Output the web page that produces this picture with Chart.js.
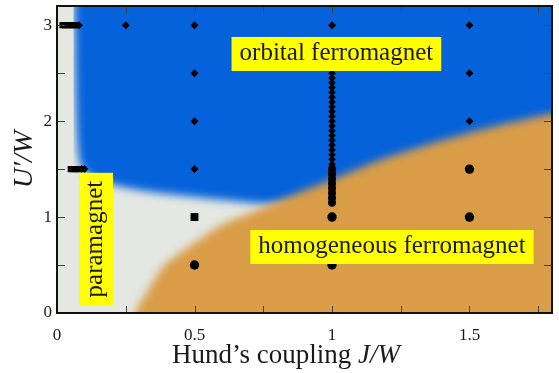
<!DOCTYPE html>
<html>
<head>
<meta charset="utf-8">
<script src="https://cdn.jsdelivr.net/npm/chart.js@4.4.1/dist/chart.umd.min.js"></script>
<style>
html, body { margin: 0; padding: 0; background: #fff; }
</style>
</head>
<body>
<canvas id="phase-chart" width="559" height="373"></canvas>
<script>
// tick degli assi
const xTicks = [0, 0.5, 1, 1.5];
const yTicks = [0, 1, 2, 3];
const xMinorTicks = [0, 0.25, 0.5, 0.75, 1, 1.25, 1.5, 1.75];
const yMinorTicks = [0, 0.5, 1, 1.5, 2, 2.5, 3];

// confine della fase orbitale (blu): J/W, U'/W
const orbitalEdgeJ = [0.060, 0.063, 0.066, 0.070, 0.076, 0.085, 0.10, 0.14, 0.20, 0.30, 0.40, 0.50, 0.60, 0.70, 0.80, 1.0, 1.4, 1.9, 2.3];
const orbitalEdgeU = [4.0, 3.2, 2.5, 2.0, 1.7, 1.55, 1.48, 1.40, 1.34, 1.28, 1.24, 1.21, 1.18, 1.15, 1.14, 1.2, 1.5, 1.9, 2.1];

// confine della fase ferromagnetica omogenea (arancio)
const homoEdgeJ = [0.25, 0.285, 0.32, 0.385, 0.45, 0.50, 0.60, 0.70, 0.80, 0.90, 1.0, 1.2, 1.5, 1.8, 2.2];
const homoEdgeU = [-1.0, 0.0, 0.18, 0.48, 0.63, 0.73, 0.92, 1.04, 1.16, 1.28, 1.39, 1.62, 1.88, 2.08, 2.30];

// punti calcolati
const diamondJ = [0.08, 0.25, 0.5, 1.0, 1.5, 0.5, 0.5, 0.5, 1.5, 1.5, 0.09, 0.10];
const diamondU = [3.0, 3.0, 3.0, 3.0, 3.0, 2.5, 2.0, 1.5, 2.5, 2.0, 1.5, 1.5];
const circleJ = [1.0, 1.0, 0.5, 1.5, 1.5];
const circleU = [1.0, 0.5, 0.5, 1.5, 1.0];
const squareJ = [0.02, 0.03, 0.04, 0.05, 0.06, 0.07, 0.05, 0.06, 0.07, 0.08, 0.5];
const squareU = [3.0, 3.0, 3.0, 3.0, 3.0, 3.0, 1.5, 1.5, 1.5, 1.5, 1.0];

// colonna densa a J/W = 1
const columnJ = 1.0;
const columnDiamondU = [2.50, 2.45, 2.40, 2.35, 2.30, 2.25, 2.20, 2.15, 2.10, 2.05, 2.00, 1.95, 1.90, 1.85, 1.80, 1.75, 1.70, 1.65, 1.60, 1.55];
const columnCircleU = [1.50, 1.45, 1.40, 1.35, 1.30, 1.25, 1.20, 1.15];

const phaseNames = ['orbital ferromagnet', 'homogeneous ferromagnet', 'paramagnet'];

const toPts = (xs, ys) => xs.map((x, i) => ({ x: x, y: ys[i] }));

const SERIF = '"Liberation Serif", "DejaVu Serif", serif';

const phasePlugin = {
    id: 'phase',
    beforeDraw(chart) {
        const { ctx, chartArea: a } = chart;
        ctx.save();
        ctx.fillStyle = '#e4e7e2';
        ctx.fillRect(a.left, a.top, a.right - a.left, a.bottom - a.top);
        ctx.restore();
    },
    beforeDatasetsDraw(chart) {
        chart.ctx.save();
        chart.ctx.filter = 'blur(4px)';
    },
    beforeDatasetDraw(chart, args) {
        if (!chart.data.datasets[args.index].isRegion) {
            chart.ctx.filter = 'none';
        }
    },
    afterDatasetsDraw(chart) {
        const { ctx, chartArea: a, scales } = chart;
        const xs = scales.x, ys = scales.y;
        ctx.restore();

        // etichette delle fasi
        const anchors = [
            { x: 1.016, y: 2.70, rot: 0 },
            { x: 1.218, y: 0.688, rot: 0 },
            { x: 0.142, y: 0.77, rot: -Math.PI / 2 }
        ];
        ctx.save();
        ctx.font = '25px ' + SERIF;
        ctx.textAlign = 'center';
        ctx.textBaseline = 'alphabetic';
        phaseNames.forEach((name, i) => {
            const an = anchors[i];
            const w = ctx.measureText(name).width + 16;
            const h = 34;
            ctx.save();
            ctx.translate(xs.getPixelForValue(an.x), ys.getPixelForValue(an.y));
            ctx.rotate(an.rot);
            ctx.fillStyle = '#ffff00';
            ctx.fillRect(-w / 2, -h / 2, w, h);
            ctx.fillStyle = '#1a1a1a';
            ctx.fillText(name, 0, 6);
            ctx.restore();
        });
        ctx.restore();

        // cornice e tacche interne
        ctx.save();
        ctx.strokeStyle = '#444';
        ctx.lineWidth = 1;
        ctx.beginPath();
        xMinorTicks.forEach(v => {
            const px = Math.round(xs.getPixelForValue(v)) + 0.5;
            ctx.moveTo(px, a.bottom); ctx.lineTo(px, a.bottom - 7);
            ctx.moveTo(px, a.top); ctx.lineTo(px, a.top + 7);
        });
        yMinorTicks.forEach(v => {
            const py = Math.round(ys.getPixelForValue(v)) + 0.5;
            ctx.moveTo(a.left, py); ctx.lineTo(a.left + 8, py);
            ctx.moveTo(a.right, py); ctx.lineTo(a.right - 8, py);
        });
        ctx.stroke();
        ctx.strokeStyle = '#111';
        ctx.lineWidth = 2;
        ctx.strokeRect(a.left, a.top, a.right - a.left, a.bottom - a.top);
        ctx.restore();

        // titolo asse x con parte in corsivo
        ctx.save();
        ctx.fillStyle = '#1a1a1a';
        ctx.textBaseline = 'alphabetic';
        const roman = 'Hund\u2019s coupling ';
        const italic = 'J/W';
        ctx.font = '27px ' + SERIF;
        const w1 = ctx.measureText(roman).width;
        ctx.font = 'italic 27px ' + SERIF;
        const w2 = ctx.measureText(italic).width;
        const cx = a.left + 229;
        const base = a.bottom + 50;
        ctx.font = '27px ' + SERIF;
        ctx.fillText(roman, cx - (w1 + w2) / 2, base);
        ctx.font = 'italic 27px ' + SERIF;
        ctx.fillText(italic, cx - (w1 + w2) / 2 + w1, base);
        ctx.restore();
    }
};

// niente margini automatici per le etichette dei tick
function noPadding(s) {
    s.paddingTop = 0;
    s.paddingBottom = 0;
    s.paddingLeft = 0;
    s.paddingRight = 0;
}

document.addEventListener('DOMContentLoaded', () => {
    const ctx = document.getElementById('phase-chart').getContext('2d');
    new Chart(ctx, {
        type: 'scatter',
        data: {
            datasets: [
                {
                    label: 'diamanti',
                    data: toPts(diamondJ, diamondU),
                    pointStyle: 'rectRot',
                    pointRadius: 4,
                    backgroundColor: '#000',
                    borderWidth: 0,
                    order: 1
                },
                {
                    label: 'colonna diamanti',
                    data: columnDiamondU.map(u => ({ x: columnJ, y: u })),
                    pointStyle: 'rectRot',
                    pointRadius: 3.8,
                    backgroundColor: '#000',
                    borderWidth: 0,
                    order: 1
                },
                {
                    label: 'colonna cerchi',
                    data: columnCircleU.map(u => ({ x: columnJ, y: u })),
                    pointStyle: 'circle',
                    pointRadius: 4,
                    backgroundColor: '#000',
                    borderWidth: 0,
                    order: 1
                },
                {
                    label: 'cerchi',
                    data: toPts(circleJ, circleU),
                    pointStyle: 'circle',
                    pointRadius: 4.7,
                    backgroundColor: '#000',
                    borderWidth: 0,
                    order: 1
                },
                {
                    label: 'quadrati',
                    data: toPts(squareJ, squareU),
                    pointStyle: 'rect',
                    pointRadius: c => (c.raw && c.raw.x === 0.5 ? 5.6 : 4.4),
                    backgroundColor: '#000',
                    borderWidth: 0,
                    order: 1
                },
                {
                    label: 'omogeneo',
                    isRegion: true,
                    data: toPts(homoEdgeJ, homoEdgeU),
                    showLine: true,
                    tension: 0.3,
                    fill: { value: -1 },
                    backgroundColor: '#d99c47',
                    borderWidth: 0,
                    pointRadius: 0,
                    order: 5
                },
                {
                    label: 'orbitale',
                    isRegion: true,
                    data: toPts(orbitalEdgeJ, orbitalEdgeU),
                    showLine: true,
                    tension: 0.3,
                    fill: { value: 4 },
                    backgroundColor: '#0662da',
                    borderWidth: 0,
                    pointRadius: 0,
                    order: 6
                }
            ]
        },
        options: {
            responsive: false,
            animation: false,
            layout: { padding: { top: 6, right: 7, left: 0, bottom: 0 } },
            plugins: {
                legend: { display: false },
                tooltip: { enabled: false }
            },
            scales: {
                x: {
                    type: 'linear',
                    min: 0,
                    max: 1.8,
                    grid: { display: false },
                    border: { display: false },
                    ticks: {
                        padding: 4,
                        color: '#1a1a1a',
                        font: { family: SERIF, size: 17 },
                        callback: v => String(v)
                    },
                    afterBuildTicks: s => { s.ticks = xTicks.map(v => ({ value: v })); },
                    afterFit: s => { s.height = 60; noPadding(s); }
                },
                y: {
                    type: 'linear',
                    min: 0,
                    max: 3.2,
                    grid: { display: false, drawTicks: false },
                    border: { display: false },
                    ticks: {
                        padding: 5,
                        color: '#1a1a1a',
                        font: { family: SERIF, size: 17 },
                        callback: v => String(v)
                    },
                    title: {
                        display: true,
                        text: 'U\u2032/W',
                        color: '#1a1a1a',
                        font: { family: SERIF, size: 28, style: 'italic' },
                        padding: { top: 8, bottom: 0 }
                    },
                    afterBuildTicks: s => { s.ticks = yTicks.map(v => ({ value: v })); },
                    afterFit: s => { s.width = 57; noPadding(s); }
                }
            }
        },
        plugins: [phasePlugin]
    });
});
</script>
</body>
</html>
